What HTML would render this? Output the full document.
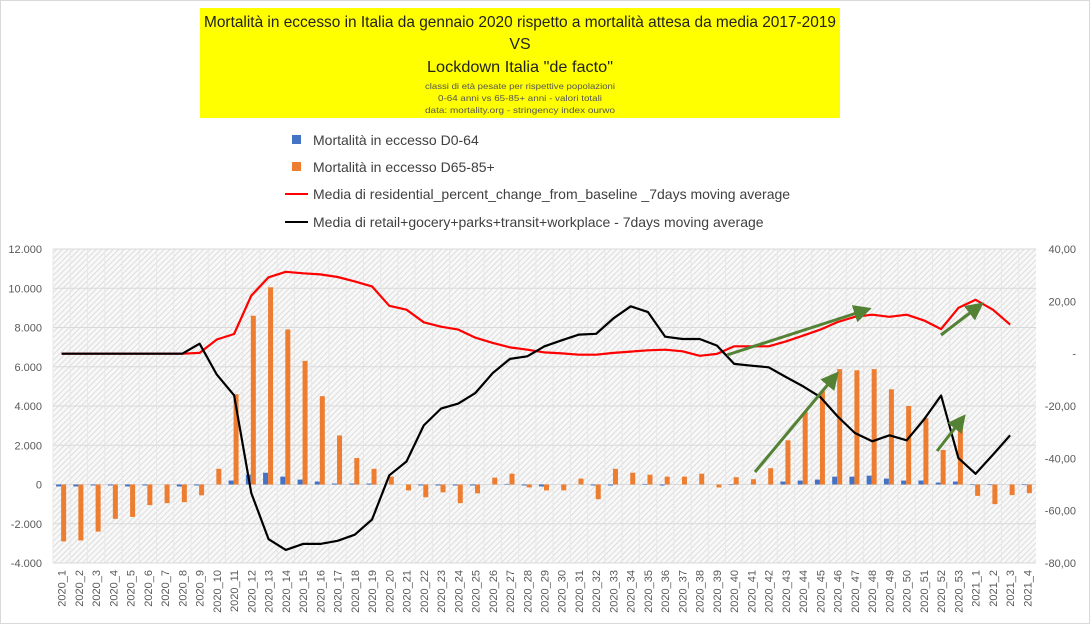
<!DOCTYPE html>
<html><head><meta charset="utf-8"><style>
body{margin:0;background:#fff;font-family:"Liberation Sans",sans-serif}
#wrap{position:relative;width:1090px;height:624px;overflow:hidden}
</style></head><body>
<div id="wrap">
<svg id="svg" width="1090" height="624" xmlns="http://www.w3.org/2000/svg">
<defs>
<pattern id="hatch" width="4" height="4" patternUnits="userSpaceOnUse" patternTransform="rotate(45)">
<rect width="4" height="4" fill="#f8f8f8"/><line x1="0" y1="0" x2="0" y2="4" stroke="#d2d2d2" stroke-width="1.4"/>
</pattern>
<marker id="arr" markerWidth="6" markerHeight="6" refX="4" refY="3" orient="auto" markerUnits="strokeWidth"><path d="M0,0 L6,3 L0,6 z" fill="#548235"/></marker>
</defs>
<rect x="0.5" y="0.5" width="1089" height="623" fill="#fff" stroke="#d9d9d9"/>
<rect x="200" y="8" width="640" height="110" fill="#ffff00"/>
<text x="520" y="27" text-anchor="middle" font-size="16" textLength="632" lengthAdjust="spacingAndGlyphs" fill="#222">Mortalità in eccesso in Italia da gennaio 2020 rispetto a mortalità attesa da media 2017-2019</text>
<text x="520" y="49" text-anchor="middle" font-size="16" fill="#222">VS</text>
<text x="520" y="72" text-anchor="middle" font-size="16" textLength="186" lengthAdjust="spacingAndGlyphs" fill="#222">Lockdown Italia "de facto"</text>
<text x="520" y="89" text-anchor="middle" font-size="8.5" textLength="190" lengthAdjust="spacingAndGlyphs" fill="#555">classi di età pesate per rispettive popolazioni</text>
<text x="520" y="101" text-anchor="middle" font-size="8.5" textLength="164" lengthAdjust="spacingAndGlyphs" fill="#555">0-64 anni vs 65-85+ anni - valori totali</text>
<text x="520" y="113" text-anchor="middle" font-size="8.5" textLength="190" lengthAdjust="spacingAndGlyphs" fill="#555">data: mortality.org - stringency index ourwo</text>
<g id="legend" font-size="14" fill="#404040">
<g><rect x="292" y="135" width="9" height="9" fill="#4472c4"/><text x="313" y="145">Mortalità in eccesso D0-64</text></g>
<g><rect x="292" y="162" width="9" height="9" fill="#ed7d31"/><text x="313" y="172">Mortalità in eccesso D65-85+</text></g>
<g><line x1="285" y1="194" x2="308" y2="194" stroke="#ff0000" stroke-width="2"/><text x="313" y="199">Media di residential_percent_change_from_baseline _7days moving average</text></g>
<g><line x1="285" y1="222" x2="308" y2="222" stroke="#000" stroke-width="2"/><text x="313" y="227">Media di retail+gocery+parks+transit+workplace - 7days moving average</text></g>
</g>
<rect x="53" y="249" width="983" height="314" fill="url(#hatch)"/>
<g id="grid"></g><g id="bars"></g><g id="lines"></g><g id="axes" font-size="11" fill="#595959"></g>
<g stroke="#548235" stroke-width="3" fill="none">
<line x1="727" y1="355" x2="866" y2="310" marker-end="url(#arr)"/>
<line x1="755" y1="472" x2="835" y2="376" marker-end="url(#arr)"/>
<line x1="941" y1="335" x2="979" y2="306" marker-end="url(#arr)"/>
<line x1="937" y1="451" x2="962" y2="419" marker-end="url(#arr)"/>
</g>
</svg></div>
<script>
const categories=[];for(let i=1;i<=53;i++)categories.push('2020_'+i);for(let i=1;i<=4;i++)categories.push('2021_'+i);
const d064=[-100,-100,-50,-50,-100,-50,0,-100,-50,0,200,500,600,400,250,150,50,50,50,0,0,-50,-50,-50,-50,0,30,-50,-100,0,0,-50,-50,0,30,-50,0,0,0,-30,0,0,150,200,250,400,400,450,300,200,200,100,150,-30,-30,0,-30];
const d6585=[-2900,-2850,-2400,-1750,-1650,-1050,-950,-900,-550,800,4600,8600,10050,7900,6300,4500,2500,1350,800,400,-300,-650,-400,-950,-450,350,550,-150,-300,-300,300,-750,800,600,500,400,400,550,-150,370,270,830,2250,3700,4750,5880,5820,5880,4850,4000,3380,1760,3100,-580,-1000,-540,-440];
const residential=[0,0,0,0,0,0,0,0,0.3,5.4,7.5,22.2,29.2,31.3,30.7,30.3,29.3,27.6,25.7,18.3,16.8,12,10.3,9.2,6.1,4.1,2.4,1.5,0.5,0.1,-0.4,-0.4,0.3,0.8,1.3,1.5,0.9,-0.8,-0.1,2.8,2.8,2.8,4.7,6.9,9.2,12.1,14.1,14.9,14.1,14.9,12.7,9.4,17.5,20.6,16.8,11.1,null];
const retail=[0,0,0,0,0,0,0,0,3.8,-8,-15.9,-53.3,-70.9,-75,-72.7,-72.7,-71.5,-69.2,-63.4,-46.5,-41.2,-27.4,-21,-19.1,-15,-7.4,-2,-1,2.8,5.1,7.3,7.6,13.5,18.1,15.9,6.5,5.6,5.6,3.1,-3.9,-4.6,-5.2,-8.9,-12.5,-16.6,-24,-30.3,-33.5,-31.2,-33.1,-25.2,-16,-39.9,-45.9,-38.6,-31.2,null];
const leftTicks=[12000,10000,8000,6000,4000,2000,0,-2000,-4000];
const leftTickLabels=['12.000','10.000','8.000','6.000','4.000','2.000','0','-2.000','-4.000'];
const rightTicks=[40,20,0,-20,-40,-60,-80];
const rightTickLabels=['40,00','20,00','-','-20,00','-40,00','-60,00','-80,00'];
const NS='http://www.w3.org/2000/svg';
const X0=53,X1=1036,Y0=249,Y1=563,bw=(X1-X0)/categories.length;
const yL=v=>Y1-(v+4000)/16000*(Y1-Y0);
const yR=v=>Y1-(v+80)/120*(Y1-Y0);
const xC=i=>X0+bw*(i+0.5);
function mk(tag,attrs,parent){const e=document.createElementNS(NS,tag);for(const k in attrs)e.setAttribute(k,attrs[k]);document.getElementById(parent).appendChild(e);return e;}
categories.forEach((c,i)=>{const l=mk('line',{x1:X0+bw*i,x2:X0+bw*i,y1:Y0,y2:Y1,stroke:'#e8e8e8'},'grid');

});
leftTicks.forEach((v,i)=>{const l=mk('line',{x1:X0,x2:X1,y1:yL(v),y2:yL(v),stroke:'#d9d9d9'},'grid');


const t=mk('text',{x:42,y:yL(v)+4,'text-anchor':'end'},'axes');t.textContent=leftTickLabels[i];

});
rightTicks.forEach((v,i)=>{const t=mk('text',{x:1076,y:yR(v)+4,'text-anchor':'end'},'axes');t.textContent=rightTickLabels[i];

});
const zl=mk('line',{x1:X0,x2:X1,y1:yL(0),y2:yL(0),stroke:'#d9d9d9'},'grid');


categories.forEach((c,i)=>{const cx=xC(i);
let v=d064[i];const b=mk('rect',{x:cx-5.5,y:Math.min(yL(v),yL(0)),width:5,height:Math.abs(yL(v)-yL(0)),fill:'#4472c4'},'bars');


v=d6585[i];const o=mk('rect',{x:cx-0.5,y:Math.min(yL(v),yL(0)),width:5,height:Math.abs(yL(v)-yL(0)),fill:'#ed7d31'},'bars');


const t=mk('text',{transform:`translate(${cx+4},570) rotate(-90)`,'text-anchor':'end'},'axes');t.textContent=c;

});
function line(arr,color,name){const pts=[];arr.forEach((v,i)=>{if(v!==null)pts.push(xC(i).toFixed(1)+','+yR(v).toFixed(1));});
const p=mk('polyline',{points:pts.join(' '),fill:'none',stroke:color,'stroke-width':2.2,'stroke-linejoin':'round'},'lines');

}
line(residential,'#ff0000','residential-line');
line(retail,'#000000','retail-line');
</script>
</body></html>
